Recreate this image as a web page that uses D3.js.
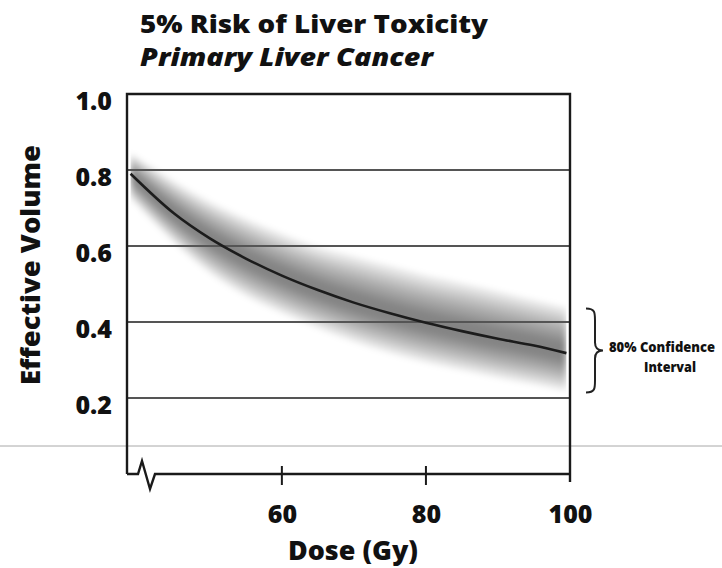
<!DOCTYPE html>
<html>
<head>
<meta charset="utf-8">
<script src="https://cdn.jsdelivr.net/npm/d3@7"></script>
<style>
  html, body { margin: 0; padding: 0; background: #fff; }
  svg { display: block; }
  text { font-family: "Open Sans", "Noto Sans", sans-serif; font-weight: 800; fill: #111; }
</style>
</head>
<body>
<svg id="chart" width="722" height="568"></svg>
<script>
// ---- data ----
const doses   = [39, 45, 50, 55, 60, 65, 70, 75, 80, 85, 90, 95, 99.5];
const volume  = [0.79, 0.686, 0.62, 0.567, 0.522, 0.484, 0.451, 0.423, 0.398, 0.376, 0.356, 0.338, 0.318];
const upperCI = [0.84, 0.765, 0.71, 0.665, 0.625, 0.59, 0.565, 0.54, 0.515, 0.495, 0.473, 0.45, 0.43];
const lowerCI = [0.73, 0.615, 0.535, 0.475, 0.43, 0.39, 0.355, 0.325, 0.30, 0.28, 0.26, 0.242, 0.225];
const yTicks  = [0.2, 0.4, 0.6, 0.8, 1.0];
const gridValues = [0.2, 0.4, 0.6, 0.8];
const xTicks  = [60, 80, 100];
const titleText = "5% Risk of Liver Toxicity";
const subtitleText = "Primary Liver Cancer";
const xTitle = "Dose (Gy)";
const yTitle = "Effective Volume";
const ciLabel = ["80% Confidence", "Interval"];

(function () {
// ---- layout ----
const svg = d3.select("#chart");
const pL = 127, pR = 570, pT = 94, pB = 474;
const x = d3.scaleLinear().domain([38.5, 100]).range([pL, pR]);
const y = d3.scaleLinear().domain([0, 1]).range([pB, pT]);

const rows = doses.map((d, i) => ({ d, v: volume[i], hi: upperCI[i], lo: lowerCI[i] }));

const defs = svg.append("defs");
defs.append("filter").attr("id", "blur").attr("x", "-10%").attr("y", "-20%").attr("width", "120%").attr("height", "140%")
  .append("feGaussianBlur").attr("stdDeviation", 3.2);
defs.append("clipPath").attr("id", "bandClip")
  .append("rect")
  .attr("x", x(doses[0])).attr("y", 0)
  .attr("width", x(doses[doses.length - 1]) - x(doses[0]))
  .attr("height", pB);

// stray scan line across the page
svg.append("line").attr("x1", 0).attr("x2", 722).attr("y1", 446).attr("y2", 446)
  .attr("stroke", "#a8a8a8").attr("stroke-width", 1);

// ---- confidence band (nested, blurred) ----
const bandG = svg.append("g").attr("clip-path", "url(#bandClip)")
  .append("g").attr("filter", "url(#blur)");
const layers = [1.05, 0.88, 0.72, 0.56, 0.4, 0.25];
layers.forEach(t => {
  const area = d3.area()
    .x(r => x(r.d))
    .y0(r => y(r.v - t * (r.v - r.lo)))
    .y1(r => y(r.v + t * (r.hi - r.v)))
    .curve(d3.curveMonotoneX);
  bandG.append("path").datum(rows).attr("d", area)
    .attr("fill", "#000").attr("fill-opacity", 0.105);
});

// ---- gridlines ----
svg.append("g")
  .selectAll("line").data(gridValues).join("line")
  .attr("x1", pL).attr("x2", pR)
  .attr("y1", d => y(d)).attr("y2", d => y(d))
  .attr("stroke", "#555").attr("stroke-width", 2.2);

// ---- central curve ----
svg.append("path").datum(rows)
  .attr("d", d3.line().x(r => x(r.d)).y(r => y(r.v)).curve(d3.curveMonotoneX))
  .attr("fill", "none").attr("stroke", "#1c1c1c").attr("stroke-width", 2.6)
  .attr("stroke-linecap", "butt");

// ---- frame with axis break ----
const frame = svg.append("g").attr("fill", "none").attr("stroke", "#1a1a1a")
  .attr("stroke-width", 2.4).attr("stroke-linejoin", "miter");
frame.append("path").attr("d",
  `M${pL},${pB} L${pL},${pT} L${pR},${pT} L${pR},${pB + 8}`);
frame.append("path").attr("d",
  `M${pL},${pB} L${pL + 11},${pB} L${pL + 15},${pB - 13} L${pL + 23},${pB + 15} L${pL + 28},${pB} L${pR},${pB}`);

// x ticks (60, 80) crossing the axis
frame.selectAll("line.tick").data(xTicks.filter(v => v < 100)).join("line")
  .attr("class", "tick")
  .attr("x1", d => x(d)).attr("x2", d => x(d))
  .attr("y1", pB - 8).attr("y2", pB + 11)
  .attr("stroke-width", 2);

// ---- axes labels via d3 axes ----
const yAxis = d3.axisLeft(y).tickValues(yTicks).tickFormat(d3.format(".1f"))
  .tickSize(0).tickPadding(15);
const yg = svg.append("g").attr("transform", `translate(${pL},0)`).call(yAxis);
yg.select(".domain").remove();
yg.selectAll("text").attr("font-size", 25).attr("dy", "0.62em")
  .style("font-family", '"Open Sans", sans-serif').style("font-weight", 800).attr("fill", "#111");

const xAxis = d3.axisBottom(x).tickValues(xTicks).tickFormat(d3.format("d"))
  .tickSize(0).tickPadding(31);
const xg = svg.append("g").attr("transform", `translate(0,${pB})`).call(xAxis);
xg.select(".domain").remove();
xg.selectAll("text").attr("font-size", 25)
  .style("font-family", '"Open Sans", sans-serif').style("font-weight", 800).attr("fill", "#111");

// ---- titles ----
svg.append("text").attr("x", 140).attr("y", 33).attr("font-size", 25)
  .attr("textLength", 348).attr("lengthAdjust", "spacingAndGlyphs").text(titleText);
svg.append("text").attr("x", 140).attr("y", 66).attr("font-size", 25)
  .attr("font-style", "italic")
  .attr("textLength", 293).attr("lengthAdjust", "spacingAndGlyphs").text(subtitleText);

svg.append("text").attr("x", 353).attr("y", 560).attr("font-size", 26)
  .attr("text-anchor", "middle")
  .attr("textLength", 130).attr("lengthAdjust", "spacingAndGlyphs").text(xTitle);

svg.append("text").attr("transform", "translate(40,265) rotate(-90)")
  .attr("font-size", 27).attr("text-anchor", "middle")
  .attr("textLength", 240).attr("lengthAdjust", "spacingAndGlyphs").text(yTitle);

// ---- confidence interval annotation ----
const by0 = y(upperCI[upperCI.length - 1]) - 2, by1 = y(lowerCI[lowerCI.length - 1]) + 4;
const bm = (by0 + by1) / 2;
svg.append("path")
  .attr("d", `M586,${by0} C595,${by0} 595,${by0 + 4} 595,${by0 + 12} L595,${bm - 8} C595,${bm - 2} 598,${bm} 603,${bm}
              C598,${bm} 595,${bm + 2} 595,${bm + 8} L595,${by1 - 12} C595,${by1 - 4} 595,${by1} 586,${by1}`)
  .attr("fill", "none").attr("stroke", "#222").attr("stroke-width", 2);

svg.append("text").attr("x", 662).attr("y", 352).attr("font-size", 14).attr("text-anchor", "middle")
  .attr("textLength", 106).attr("lengthAdjust", "spacingAndGlyphs").text(ciLabel[0]);
svg.append("text").attr("x", 670).attr("y", 372).attr("font-size", 14).attr("text-anchor", "middle")
  .attr("textLength", 52).attr("lengthAdjust", "spacingAndGlyphs").text(ciLabel[1]);
})();
</script>
</body>
</html>
